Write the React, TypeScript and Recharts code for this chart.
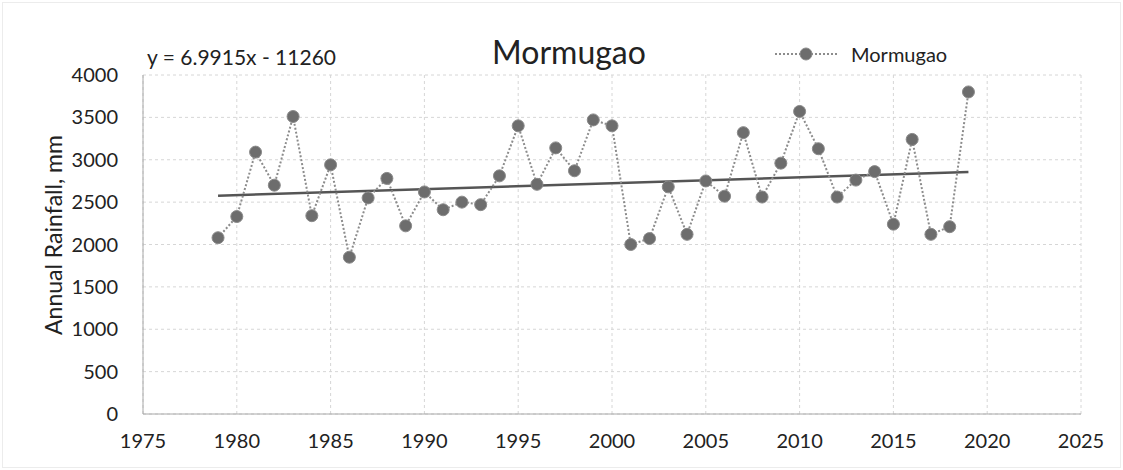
import { LineChart, Line, XAxis, YAxis, CartesianGrid, ReferenceLine } from "recharts";

// Annual rainfall at Mormugao
const years = [
  1979, 1980, 1981, 1982, 1983, 1984, 1985, 1986, 1987, 1988,
  1989, 1990, 1991, 1992, 1993, 1994, 1995, 1996, 1997, 1998,
  1999, 2000, 2001, 2002, 2003, 2004, 2005, 2006, 2007, 2008,
  2009, 2010, 2011, 2012, 2013, 2014, 2015, 2016, 2017, 2018, 2019,
];
const rainfall = [
  2080, 2330, 3090, 2700, 3510, 2340, 2940, 1850, 2550, 2780,
  2220, 2620, 2410, 2500, 2470, 2810, 3400, 2710, 3140, 2870,
  3470, 3400, 2000, 2070, 2680, 2120, 2750, 2570, 3320, 2560,
  2960, 3570, 3130, 2560, 2760, 2860, 2240, 3240, 2120, 2210, 3800,
];
const xTicks = [1975, 1980, 1985, 1990, 1995, 2000, 2005, 2010, 2015, 2020, 2025];
const yTicks = [0, 500, 1000, 1500, 2000, 2500, 3000, 3500, 4000];

// linear trend as printed on the chart
const slope = 6.9915;
const intercept = -11260;

const data = years.map((year, i) => ({ year, value: rainfall[i] }));
const trendStart = years[0];
const trendEnd = years[years.length - 1];

const FONT = "Lato, 'Open Sans', sans-serif";
const TEXT = "#222";

function LegendBox() {
  return (
    <div
      style={{
        position: "absolute", left: 775, top: 42, display: "flex", alignItems: "center",
        fontFamily: FONT, fontSize: 20, color: TEXT,
      }}
    >
      <svg width={62} height={16}>
        <line x1={0} y1={8} x2={62} y2={8} stroke="#8c8c8c" strokeWidth={2} strokeDasharray="2 2" />
        <circle cx={31} cy={8} r={6} fill="#6d6d6d" stroke="#8a8a8a" />
      </svg>
      <span style={{ marginLeft: 14 }}>Mormugao</span>
    </div>
  );
}

export default function App() {
  return (
    <div style={{ position: "absolute", left: 0, top: 0, width: 1123, height: 470, background: "#fff" }}>
      <div style={{ position: "absolute", left: 2, top: 2, width: 1117, height: 464, border: "1px solid #ececec" }} />
      <LineChart
        width={1123}
        height={470}
        data={data}
        margin={{ top: 75, right: 42, bottom: 0, left: 0 }}
        style={{ position: "absolute", left: 0, top: 0 }}
      >
        <CartesianGrid stroke="#d6d6d6" strokeDasharray="3 3" />
        <XAxis
          dataKey="year"
          type="number"
          domain={[1975, 2025]}
          ticks={xTicks}
          interval={0}
          height={56}
          tickLine={false}
          tickSize={0}
          tickMargin={20}
          axisLine={{ stroke: "#a8a8a8" }}
          tick={{ fontFamily: FONT, fontSize: 20, fill: TEXT }}
        />
        <YAxis
          width={143}
          domain={[0, 4000]}
          ticks={yTicks}
          interval={0}
          tickLine={false}
          tickSize={0}
          tickMargin={25}
          axisLine={{ stroke: "#a8a8a8" }}
          tick={{ fontFamily: FONT, fontSize: 20, fill: TEXT }}
        />
        <ReferenceLine
          segment={[
            { x: trendStart, y: slope * trendStart + intercept },
            { x: trendEnd, y: slope * trendEnd + intercept },
          ]}
          stroke="#555"
          strokeWidth={2.5}
        />
        <Line
          dataKey="value"
          name="Mormugao"
          stroke="#8c8c8c"
          strokeWidth={2}
          strokeDasharray="2 2"
          dot={{ r: 6, fill: "#6d6d6d", stroke: "#8a8a8a", strokeWidth: 1, strokeDasharray: "" }}
          isAnimationActive={false}
        />
      </LineChart>
      <div style={{ position: "absolute", left: 147, top: 44, fontFamily: FONT, fontSize: 21, color: TEXT }}>
        y = 6.9915x - 11260
      </div>
      <div
        style={{
          position: "absolute", left: 0, width: 1138, top: 32, textAlign: "center",
          fontFamily: FONT, fontSize: 32, color: TEXT,
        }}
      >
        Mormugao
      </div>
      <div
        style={{
          position: "absolute", left: 53, top: 235, transform: "translate(-50%, -50%) rotate(-90deg)",
          whiteSpace: "nowrap", fontFamily: FONT, fontSize: 23, color: TEXT,
        }}
      >
        Annual Rainfall, mm
      </div>
      <LegendBox />
    </div>
  );
}
